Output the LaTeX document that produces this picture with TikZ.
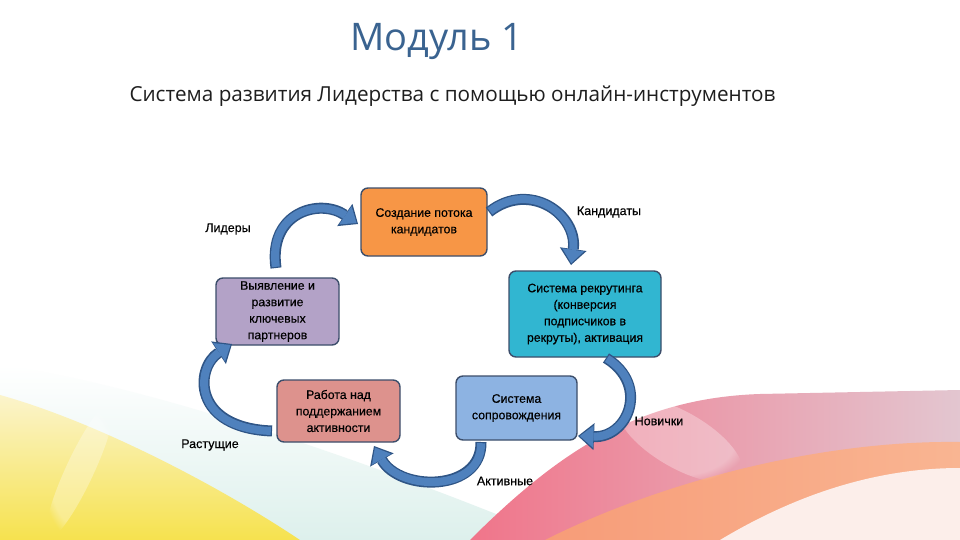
\documentclass[tikz,border=0pt]{standalone}
\usepackage{fontspec}
\setmainfont{Liberation Sans}
\newfontfamily\boxfont[FakeBold=0.35]{Liberation Sans}
\newfontfamily\titlefont{Open Sans}
\usetikzlibrary{arrows.meta,fadings}
\definecolor{titleC}{HTML}{3A6390}
\definecolor{subC}{HTML}{1E1E1E}
\definecolor{boxB}{HTML}{3C4E6B}
\definecolor{orangeF}{HTML}{F79646}
\definecolor{purpleF}{HTML}{B3A2C7}
\definecolor{cyanF}{HTML}{31B6D1}
\definecolor{pinkF}{HTML}{DD928D}
\definecolor{blueF}{HTML}{8DB3E2}
\definecolor{arrF}{HTML}{4F81BD}
\definecolor{arrB}{HTML}{2F5586}
\definecolor{washC}{HTML}{DDF0EC}
\definecolor{yelA}{HTML}{F6E24E}
\definecolor{yelB}{HTML}{FBF4CC}
\definecolor{pinkA}{HTML}{F0758A}
\definecolor{pinkB}{HTML}{E3C6D0}
\definecolor{orA}{HTML}{F79C78}
\definecolor{orB}{HTML}{F9B592}
\definecolor{paleC}{HTML}{FCEEEA}
\tikzset{
  stagebox/.style={draw=boxB, line width=1.4pt, rounded corners=7pt, align=center,
    font=\boxfont\fontsize{12.3}{16.5}\selectfont, text=black, inner sep=1pt},
  lbl/.style={font=\boxfont\fontsize{12.5}{14}\selectfont, text=black},
  arrout/.style={draw=arrB, line width=11pt, -{Triangle[length=16pt,width=27pt,line width=0pt]}},
  arrin/.style={draw=arrF, line width=8pt, shorten >=1.8pt, shorten <=1.2pt,
    -{Triangle[length=13.5pt,width=22pt,line width=0pt]}},
}
\begin{document}
\begin{tikzpicture}[x=1pt,y=-1pt]
\useasboundingbox (0,0) rectangle (960,540);
\fill[white] (0,0) rectangle (960,540);
% background decoration
\shade[top color=white, bottom color=washC] (0,365) .. controls (150,385) and (380,465) .. (560,540) -- (0,540) -- cycle;
\shade[top color=yelB, bottom color=yelA] (0,395) .. controls (90,420) and (210,480) .. (300,540) -- (0,540) -- cycle;
\fill[white, path fading=circle with fuzzy edge 20 percent, opacity=0.3, rotate around={-25:(80,470)}] (80,470) ellipse (14 and 75);
\shade[left color=pinkA, right color=pinkB] (470,540) .. controls (560,450) and (640,398) .. (760,394) -- (960,390) -- (960,540) -- cycle;
\shade[left color=orA, right color=orB] (545,540) .. controls (660,482) and (820,440) .. (960,442) -- (960,540) -- cycle;
\fill[paleC] (720,540) .. controls (800,492) and (880,468) .. (960,468) -- (960,540) -- cycle;
\fill[white, path fading=circle with fuzzy edge 20 percent, opacity=0.3, rotate around={-30:(680,440)}] (680,440) ellipse (70 and 28);
% titles
\node[font=\titlefont\fontsize{38}{42}\selectfont, text=titleC] (title) at (437,42) {Модуль 1};
\node[font=\titlefont\fontsize{20.7}{24}\selectfont, text=subC, anchor=west] (sub) at (126,96) {Система развития Лидерства с помощью онлайн-инструментов};
% boxes
\node[stagebox, fill=orangeF, minimum width=126pt, minimum height=68pt] (create) at (424,222) {Создание потока\\кандидатов};
\node[stagebox, fill=purpleF, minimum width=123pt, minimum height=67pt] (partners) at (277.5,311.5) {Выявление и\\развитие\\ключевых\\партнеров};
\node[stagebox, fill=cyanF, minimum width=152pt, minimum height=86pt] (recruit) at (585,314) {Система рекрутинга\\(конверсия\\подписчиков в\\рекруты), активация};
\node[stagebox, fill=pinkF, minimum width=123pt, minimum height=62pt] (activity) at (338.5,411) {Работа над\\поддержанием\\активности};
\node[stagebox, fill=blueF, minimum width=121pt, minimum height=64pt] (support) at (516.5,408) {Система\\сопровождения};
% labels
\node[lbl] (leaders) at (228,229) {Лидеры};
\node[lbl] (cands) at (609,212) {Кандидаты};
\node[lbl] (novice) at (659,421) {Новички};
\node[lbl] (active) at (505,481) {Активные};
\node[lbl] (growing) at (210,445) {Растущие};
% connector end points
\coordinate (a1s) at (276,268); \coordinate (a1e) at (358,224);
\coordinate (a2s) at (489,212); \coordinate (a2e) at (571,265);
\coordinate (a3s) at (606,358); \coordinate (a3e) at (578,436);
\coordinate (a4s) at (481,442); \coordinate (a4e) at (374,446);
\coordinate (a5s) at (272,431); \coordinate (a5e) at (232,344);
% curved arrows
\foreach \s in {arrout,arrin}{
  \draw[\s] (a1s) .. controls (268,212) and (320,198) .. (a1e);
  \draw[\s] (a2s) .. controls (530,180) and (578,215) .. (a2e);
  \draw[\s] (a3s) .. controls (650,385) and (628,438) .. (a3e);
  \draw[\s] (a4s) .. controls (482,492) and (400,492) .. (a4e);
  \draw[\s] (a5s) .. controls (192,428) and (195,368) .. (a5e);
}
\end{tikzpicture}
\end{document}
